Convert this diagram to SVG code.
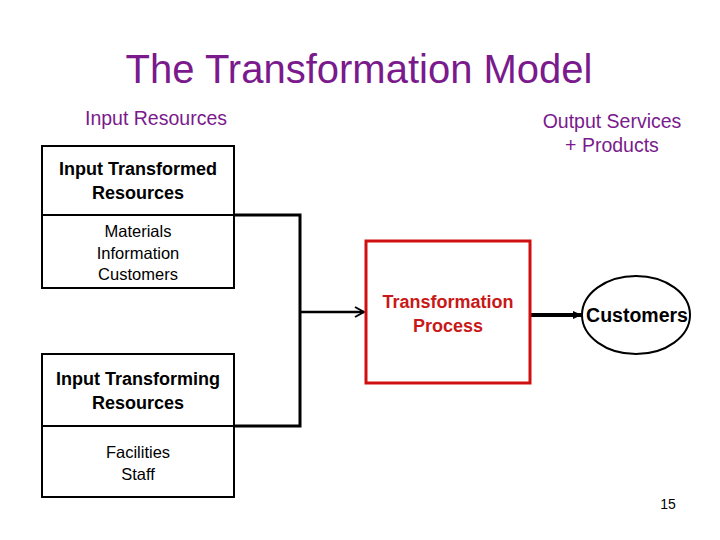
<svg xmlns="http://www.w3.org/2000/svg" width="720" height="540" viewBox="0 0 720 540">
<style>
.t{font-family:"Liberation Sans",Arial,sans-serif}
.box{fill:#fff;stroke:#000;stroke-width:2}
.purple{fill:#7a1a8c}
.hd{font-size:18px;font-weight:bold}
</style>
<defs>
<marker id="open" markerWidth="12" markerHeight="12" refX="10" refY="6" orient="auto" markerUnits="userSpaceOnUse"><path d="M1,1 L10,6 L1,11" fill="none" stroke="#000" stroke-width="2"/></marker>
<marker id="solid" markerWidth="10" markerHeight="10" refX="9" refY="5" orient="auto" markerUnits="userSpaceOnUse"><path d="M0,1 L9,5 L0,9 Z" fill="#000"/></marker>
</defs>
<rect width="720" height="540" fill="#fff"/>
<text class="t purple" x="359" y="83" font-size="40" text-anchor="middle">The Transformation Model</text>
<text class="t purple" x="156" y="125" font-size="19.5" text-anchor="middle">Input Resources</text>
<text class="t purple" x="612" y="128" font-size="19.5" text-anchor="middle">Output Services</text>
<text class="t purple" x="612" y="152" font-size="19.5" text-anchor="middle">+ Products</text>
<g id="connectors" fill="none" stroke="#000">
<path d="M234,215 H300 V426 H234" stroke-width="3"/>
<path d="M300,312 H364" stroke-width="2.5" marker-end="url(#open)"/>
<path d="M531,315 H582" stroke-width="4" marker-end="url(#solid)"/>
</g>
<g id="itr">
<rect class="box" x="42" y="146" width="192" height="69"/>
<text class="t hd" x="138" y="175" text-anchor="middle">Input Transformed</text>
<text class="t hd" x="138" y="199" text-anchor="middle">Resources</text>
</g>
<g id="itr-list">
<rect class="box" x="42" y="215" width="192" height="73"/>
<text class="t" x="138" y="237" font-size="16.5" text-anchor="middle">Materials</text>
<text class="t" x="138" y="259" font-size="16.5" text-anchor="middle">Information</text>
<text class="t" x="138" y="280" font-size="16.5" text-anchor="middle">Customers</text>
</g>
<g id="itg">
<rect class="box" x="42" y="354" width="192" height="72"/>
<text class="t hd" x="138" y="385" text-anchor="middle">Input Transforming</text>
<text class="t hd" x="138" y="409" text-anchor="middle">Resources</text>
</g>
<g id="itg-list">
<rect class="box" x="42" y="426" width="192" height="71"/>
<text class="t" x="138" y="458" font-size="16.5" text-anchor="middle">Facilities</text>
<text class="t" x="138" y="480" font-size="16.5" text-anchor="middle">Staff</text>
</g>
<g id="process">
<rect x="366" y="241" width="164" height="142" fill="#fff" stroke="#d01010" stroke-width="3"/>
<text class="t" x="448" y="308" font-size="18" font-weight="bold" fill="#c81818" text-anchor="middle">Transformation</text>
<text class="t" x="448" y="332" font-size="18" font-weight="bold" fill="#c81818" text-anchor="middle">Process</text>
</g>
<g id="customers">
<ellipse cx="636" cy="315" rx="54" ry="39" fill="#fff" stroke="#000" stroke-width="2"/>
<text class="t" x="637" y="322" font-size="19.5" font-weight="bold" text-anchor="middle">Customers</text>
</g>
<text class="t" x="668" y="509" font-size="14" text-anchor="middle">15</text>
</svg>
